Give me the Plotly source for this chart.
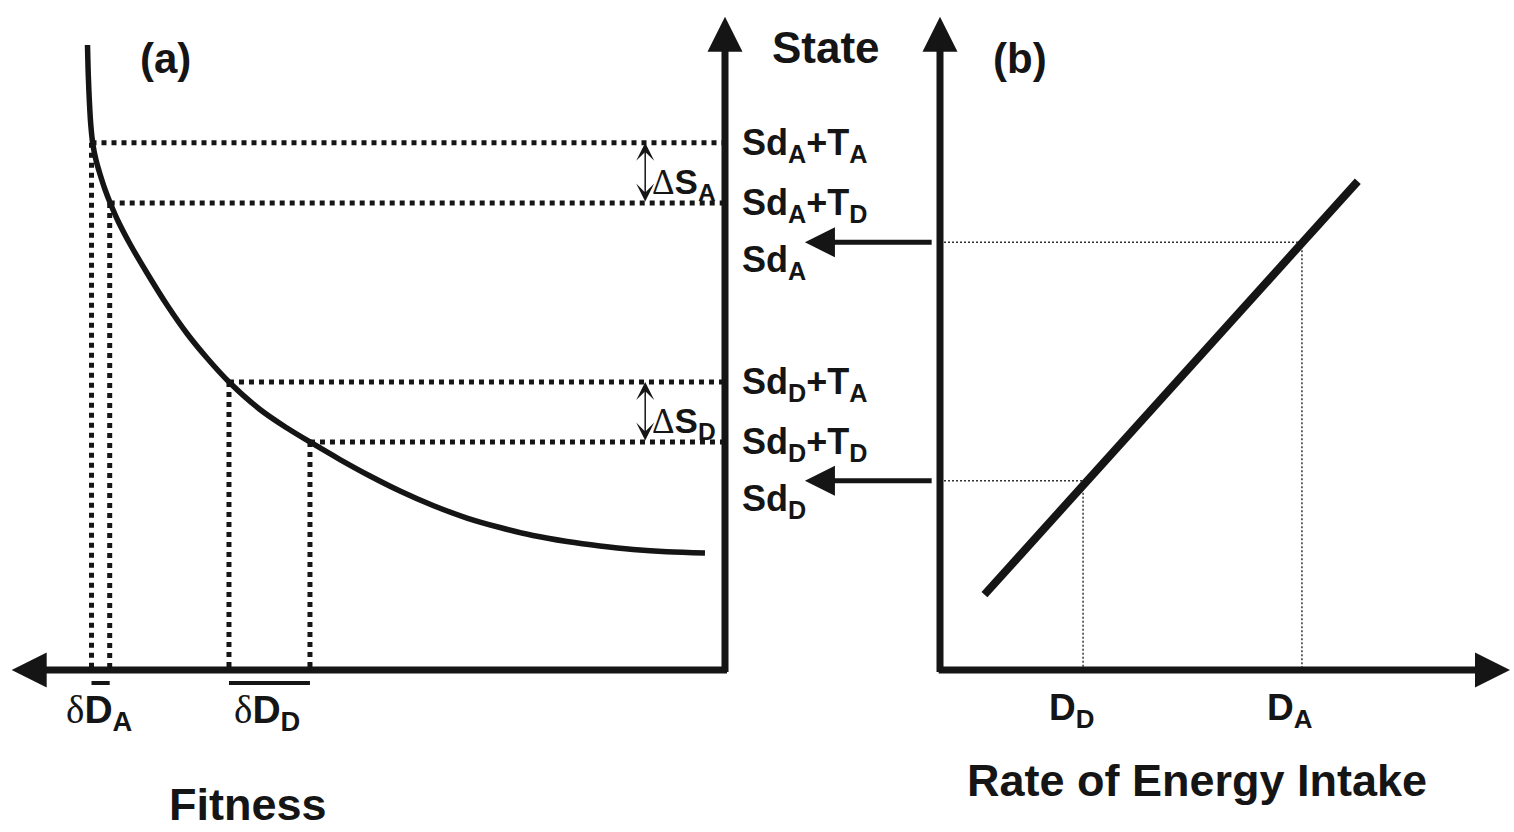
import plotly.graph_objects as go

INK = "#151515"
FONT = "Liberation Sans, Arial, sans-serif"
SERIF = "Liberation Serif, Times New Roman, serif"

# ---------------- panel (a): state against fitness ----------------
# fitness grows to the left, state grows upwards
curve_fitness = [91.07, 90.96, 90.81, 90.60, 90.29, 89.86, 89.29, 88.57, 87.71, 86.71,
                 85.00, 82.57, 79.71, 76.86, 74.00, 70.71, 66.43, 62.57, 59.29, 55.00,
                 50.71, 46.43, 41.71, 36.86, 32.14, 27.43, 22.57, 17.86, 13.14, 8.29, 2.86]
curve_state = [96.15, 91.54, 87.69, 83.85, 80.77, 78.46, 76.31, 73.92, 71.54, 69.08,
               65.54, 61.08, 56.15, 51.77, 48.00, 44.15, 40.08, 37.23, 35.08, 32.38,
               29.85, 27.54, 25.31, 23.38, 21.92, 20.69, 19.77, 19.08, 18.54, 18.18, 18.00]

level_labels = ["Sd<sub>A</sub>+T<sub>A</sub>", "Sd<sub>A</sub>+T<sub>D</sub>",
                "Sd<sub>D</sub>+T<sub>A</sub>", "Sd<sub>D</sub>+T<sub>D</sub>"]
level_state = [81.1, 71.85, 44.3, 35.08]
level_fitness = [90.5, 87.9, 70.86, 59.29]

# the two state gaps
gap_labels = ["S<sub>A</sub>", "S<sub>D</sub>"]
gap_pairs = [(0, 1), (2, 3)]
gap_arrow_fitness = 11.4

# fitness differences marked under the axis
delta_labels = ["D<sub>A</sub>", "D<sub>D</sub>"]

# ---------------- panel (b): state against rate of energy intake ----------------
intake_labels = ["D<sub>D</sub>", "D<sub>A</sub>"]
intake_rate = [25.1, 63.5]
base_labels = ["Sd<sub>D</sub>", "Sd<sub>A</sub>"]
base_state = [29.1, 65.8]
line_rate = [7.8, 73.3]
line_state = [11.6, 75.2]

fig = go.Figure()


def add_line(x, y, xaxis="x", width=5, dash="5px,5px", color=INK, shape="linear"):
    fig.add_trace(go.Scatter(
        x=x, y=y, mode="lines", xaxis=xaxis, yaxis="y",
        line=dict(color=color, width=width, dash=dash, shape=shape, smoothing=1.0),
        hoverinfo="skip", showlegend=False))


def add_arrow(xref, x, y, ax, ay, width, size, head=2, side="end"):
    fig.add_annotation(
        xref=xref, yref="y", axref=xref, ayref="y",
        x=x, y=y, ax=ax, ay=ay, text="", showarrow=True,
        arrowhead=head, startarrowhead=head, arrowsize=size, startarrowsize=size,
        arrowwidth=width, arrowcolor=INK, arrowside=side,
        standoff=0, startstandoff=0)


def add_text(text, x, y, xref="x", yref="y", size=36, xanchor="center",
             yanchor="middle", xshift=0, yshift=0):
    fig.add_annotation(
        xref=xref, yref=yref, x=x, y=y, text=text, showarrow=False,
        font=dict(family=FONT, size=size, color=INK),
        xanchor=xanchor, yanchor=yanchor, xshift=xshift, yshift=yshift)


# dotted guide lines from the curve to both axes
for f, s in zip(level_fitness, level_state):
    add_line([f, 0], [s, s])
    add_line([f, f], [s, 0])

# fitness curve
add_line(curve_fitness, curve_state, width=5.5, dash="solid", shape="spline")

# panel (b) guide lines and intake line
for r, s in zip(intake_rate, base_state):
    add_line([0, r], [s, s], xaxis="x2", width=1.5, dash="2px,2px", color="#333333")
    add_line([r, r], [s, 0], xaxis="x2", width=1.5, dash="2px,2px", color="#333333")
add_line(line_rate, line_state, xaxis="x2", width=8, dash="solid")

# overbars marking each fitness difference
for a, b in gap_pairs:
    add_line([level_fitness[a], level_fitness[b]], [-2.0, -2.0], width=4, dash="solid")

# axes with arrowheads
add_arrow("x", 101.9, 0, -0.5, 0, width=7, size=1)
add_arrow("x", 0, 100.5, 0, -0.55, width=7, size=1)
add_arrow("x2", 100.0, 0, -0.5, 0, width=7, size=1)
add_arrow("x2", 0, 100.5, 0, -0.55, width=7, size=1)

# arrows carrying the state reached in (b) over to (a)
for s in base_state:
    add_arrow("x2", -23.7, s, -1.2, s, width=5, size=1.2)

# state gaps
for (a, b), lab in zip(gap_pairs, gap_labels):
    add_arrow("x", gap_arrow_fitness, level_state[a], gap_arrow_fitness, level_state[b],
              width=1.5, size=2, head=3, side="end+start")
    mid = (level_state[a] + level_state[b]) / 2
    add_text(f"<span style=\"font-family:{SERIF}\">\u0394</span><b>{lab}</b>",
             gap_arrow_fitness - 0.7, mid, xanchor="left", yshift=-11, size=35)

# state level labels
for lab, s in zip(level_labels, level_state):
    add_text(f"<b>{lab}</b>", -2.1, s, xanchor="left", yshift=-2)
for lab, s in zip(base_labels, base_state):
    add_text(f"<b>{lab}</b>", -2.1, s, xanchor="left", yshift=-20)

# fitness differences under the axis
for (a, b), lab in zip(gap_pairs, delta_labels):
    mid = (level_fitness[a] + level_fitness[b]) / 2
    add_text(f"<span style=\"font-family:{SERIF}\">\u03b4</span><b>{lab}</b>",
             mid, -6.6, xshift=-2, size=39)

# intake labels
for lab, r in zip(intake_labels, intake_rate):
    add_text(f"<b>{lab}</b>", r, -6.2, xref="x2", xshift=-12, size=37)

# titles
add_text("<b>State</b>", 0.5456, 0.9435, xref="paper", yref="paper", size=44)
add_text("<b>(a)</b>", 0.109, 0.930, xref="paper", yref="paper", size=42)
add_text("<b>(b)</b>", 0.6737, 0.930, xref="paper", yref="paper", size=42)
add_text("<b>Fitness</b>", 0.1638, 0.0, xref="paper", yref="paper", size=45,
         yanchor="bottom")
add_text("<b>Rate of Energy Intake</b>", 0.7906, 0.0625, xref="paper", yref="paper", size=45)

fig.update_layout(
    width=1514, height=832, autosize=False,
    margin=dict(l=0, r=0, t=0, b=0),
    paper_bgcolor="white", plot_bgcolor="white",
    showlegend=False, hovermode=False,
    xaxis=dict(range=[103.571, -112.714], domain=[0, 1], visible=False, fixedrange=True),
    xaxis2=dict(range=[-164.912, 100.702], domain=[0, 1], overlaying="x", anchor="y",
                visible=False, fixedrange=True),
    yaxis=dict(range=[-24.923, 103.077], domain=[0, 1], visible=False, fixedrange=True),
)

fig.write_html("out.html", config={"displayModeBar": False})
